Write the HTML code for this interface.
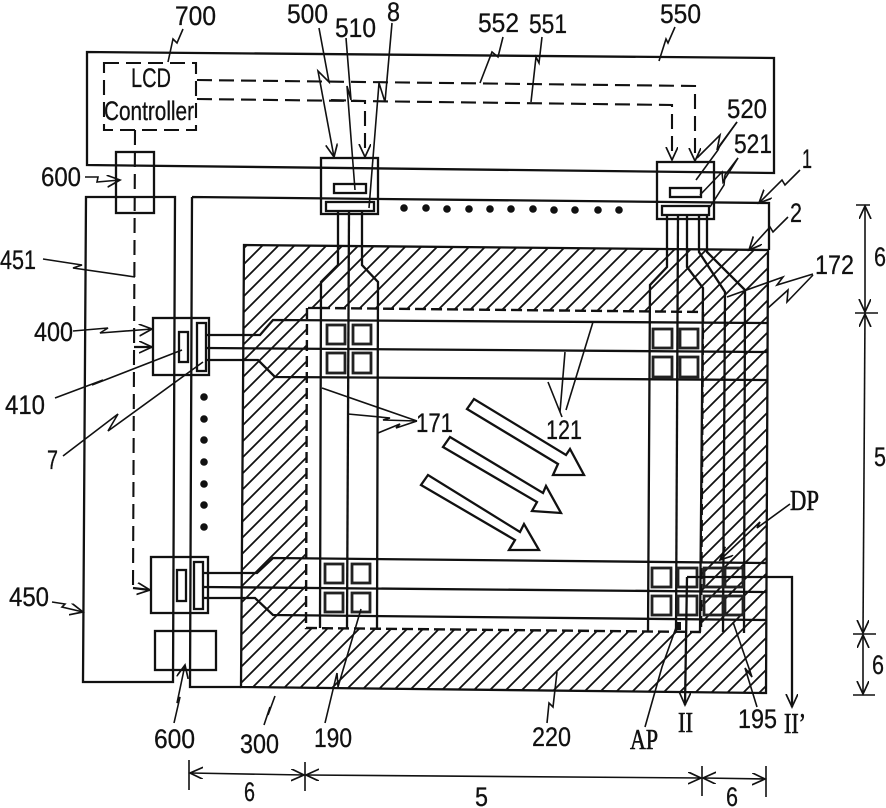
<!DOCTYPE html>
<html><head><meta charset="utf-8"><style>
html,body{margin:0;padding:0;background:#fff}
svg{display:block}
text{font-family:"Liberation Sans",sans-serif;font-size:27px;fill:#111;stroke:#111;stroke-width:.3}
text.s{font-family:"Liberation Serif",serif;font-size:28px;stroke-width:.6}
.l{fill:none;stroke:#111;stroke-width:2.3}
.p{fill:none;stroke:#222;stroke-width:2.8}
.t{fill:none;stroke:#111;stroke-width:1.6}
.d{fill:none;stroke:#111;stroke-width:2.1;stroke-dasharray:15 7}
.w{fill:none;stroke:#111;stroke-width:2.4;stroke-dasharray:11 5}
</style></head><body>
<svg width="886" height="808" viewBox="0 0 886 808" xmlns="http://www.w3.org/2000/svg">
<defs>
<pattern id="h" patternUnits="userSpaceOnUse" width="16" height="16" patternTransform="translate(12,0)">
<path d="M-2,18 L18,-2 M-2,2 L2,-2 M14,18 L18,14" stroke="#111" stroke-width="1.8" fill="none"/>
</pattern>
<marker id="a" markerUnits="userSpaceOnUse" markerWidth="18" markerHeight="14" refX="13" refY="6" orient="auto-start-reverse">
<path d="M0,0 L13,6 L0,12" fill="none" stroke="#111" stroke-width="1.7"/>
</marker>
</defs>
<rect width="886" height="808" fill="#fff"/>

<!-- hatched frame -->
<path d="M244,245 L768,250 L766,693 L241,687 Z M307,308 L306,628 L701,632 L703,312 Z" fill="url(#h)" fill-rule="evenodd"/>
<path class="l" d="M244,245 L768,250 L766,693 L241,687 Z"/>
<path class="w" d="M307,308 L306,628 L701,632 L703,312 L322,308"/>

<!-- FPC 550, panel, boards -->
<path class="l" d="M87,52 L774,58 L774,173 L87,165 Z"/>
<path class="l" d="M192,197 L769,203 L769,250 M192,197 L190,687 L241,687"/>
<path class="l" d="M86,197 L175,197 L173,682 L83,682 Z"/>

<!-- small boxes -->
<rect class="l" x="116" y="152" width="38" height="61"/>
<rect class="l" x="155" y="631" width="61" height="39"/>
<rect class="l" x="321" y="158" width="57" height="56"/>
<rect class="l" x="334" y="184" width="32" height="9"/>
<rect class="l" x="326" y="202" width="48" height="9"/>
<rect class="l" x="657" y="162" width="57" height="57"/>
<rect class="l" x="670" y="188" width="31" height="9"/>
<rect class="l" x="662" y="206" width="47" height="9"/>
<rect class="l" x="153" y="318" width="56" height="57"/>
<rect class="l" x="179" y="332" width="9" height="30"/>
<rect class="l" x="197" y="323" width="9" height="48"/>
<rect class="l" x="151" y="557" width="57" height="56"/>
<rect class="l" x="177" y="570" width="9" height="31"/>
<rect class="l" x="194" y="562" width="9" height="47"/>

<!-- data lines -->
<path class="l" d="M338,211 L338,265 L321,282 L320,628"/>
<path class="l" d="M349,211 L347,628"/>
<path class="l" d="M362,211 L362,265 L378,282 L377,629"/>
<path class="l" d="M308,308 L322,308"/>
<path class="l" d="M667,215 L667,267 L650,285 L648,632"/>
<path class="l" d="M678,215 L676,632"/>
<path class="l" d="M687,215 L687,267 L703,288 L700,632"/>
<path class="l" d="M699,215 L699,252 L725,292 L723,632"/>
<path class="l" d="M707,215 L707,252 L745,290 L744,633"/>

<!-- gate lines -->
<path class="l" d="M206,335 L260,335 L273,320 L768,323"/>
<path class="l" d="M206,348 L768,352"/>
<path class="l" d="M206,360 L258,360 L275,377 L768,380"/>
<path class="l" d="M203,573 L257,573 L273,558 L766,563"/>
<path class="l" d="M203,587 L766,592"/>
<path class="l" d="M203,598 L255,598 L273,615 L766,620"/>

<!-- pixels -->
<rect class="p" x="327" y="325" width="18" height="19"/><rect class="p" x="353" y="325" width="18" height="19"/>
<rect class="p" x="327" y="353" width="18" height="20"/><rect class="p" x="353" y="353" width="18" height="20"/>
<rect class="p" x="325" y="564" width="18" height="19"/><rect class="p" x="352" y="564" width="18" height="19"/>
<rect class="p" x="325" y="593" width="18" height="19"/><rect class="p" x="352" y="593" width="18" height="19"/>
<rect class="p" x="653" y="329" width="19" height="19"/><rect class="p" x="680" y="329" width="18" height="19"/>
<rect class="p" x="653" y="357" width="19" height="20"/><rect class="p" x="680" y="357" width="18" height="20"/>
<rect class="p" x="652" y="568" width="19" height="19"/><rect class="p" x="678" y="568" width="19" height="19"/>
<rect class="p" x="704" y="568" width="19" height="19"/><rect class="p" x="725" y="568" width="18" height="19"/>
<rect class="p" x="652" y="596" width="19" height="19"/><rect class="p" x="678" y="596" width="19" height="19"/>
<rect class="p" x="704" y="596" width="19" height="19"/><rect class="p" x="725" y="596" width="18" height="19"/>
<rect x="675" y="622" width="6" height="8" fill="#111"/>

<!-- controller and dashed signals -->
<rect class="d" x="104" y="63" width="92" height="67"/>
<path class="d" d="M197,80 L695,86 L695,161" marker-end="url(#a)"/>
<path class="d" d="M197,99 L672,105 L672,160" marker-end="url(#a)"/>
<path class="d" d="M331,100 L365,101 L365,157" marker-end="url(#a)"/>
<path class="d" d="M135,130 L133,588" />
<path class="l" d="M134,347 L152,347" marker-end="url(#a)"/>
<path class="l" d="M133,588 L150,590" marker-end="url(#a)"/>

<!-- dots -->
<g fill="#111">
<circle cx="404" cy="208" r="3.8"/><circle cx="426" cy="208" r="3.8"/><circle cx="447" cy="209" r="3.8"/><circle cx="469" cy="209" r="3.8"/><circle cx="490" cy="209" r="3.8"/><circle cx="511" cy="209" r="3.8"/><circle cx="533" cy="209" r="3.8"/><circle cx="554" cy="210" r="3.8"/><circle cx="575" cy="210" r="3.8"/><circle cx="598" cy="210" r="3.8"/><circle cx="619" cy="210" r="3.8"/>
<circle cx="204" cy="397" r="3.8"/><circle cx="204" cy="419" r="3.8"/><circle cx="204" cy="440" r="3.8"/><circle cx="204" cy="462" r="3.8"/><circle cx="204" cy="484" r="3.8"/><circle cx="204" cy="505" r="3.8"/><circle cx="204" cy="527" r="3.8"/>
</g>

<!-- block arrows -->
<path class="l" d="M467,409 L558,464 L553,475 L584,475 L570,449 L566,455 L474,399 Z"/>
<path class="l" d="M443,447 L537,502 L532,511 L561,513 L546,486 L543,493 L450,437 Z"/>
<path class="l" d="M421,485 L515,540 L509,550 L539,550 L524,524 L520,532 L428,475 Z"/>

<!-- leaders -->
<path class="t" d="M183,29 L177,43 L173,39 L168,62"/>
<path class="t" d="M319,28 L329,82 L318,71 L334,157" marker-end="url(#a)"/>
<path class="t" d="M346,38 L351,100 L347,86 L355,190"/>
<path class="t" d="M392,23 L385,102 L379,83 L369,208"/>
<path class="t" d="M503,37 L498,57 L492,52 L480,83"/>
<path class="t" d="M542,37 L539,63 L536,57 L531,102"/>
<path class="t" d="M675,27 L668,43 L666,39 L659,61"/>
<path class="t" d="M737,122 L717,150 L720,135 L697,158"/>
<path class="t" d="M737,122 L720,145 L718,150 L696,180"/>
<path class="t" d="M738,158 L723,182 L722,172 L700,195"/>
<path class="t" d="M738,158 L725,175 L724,185 L710,207"/>
<path class="t" d="M800,170 L785,185 L782,180 L759,203" marker-end="url(#a)"/>
<path class="t" d="M788,217 L773,232 L770,227 L749,250" marker-end="url(#a)"/>
<path class="t" d="M813,274 L777,285 L783,277 L727,297"/>
<path class="t" d="M813,275 L787,302 L788,290 L768,308"/>
<path class="t" d="M85,177 L98,177 L97,182 L120,180" marker-end="url(#a)"/>
<path class="t" d="M43,259 L82,265 L73,268 L135,277"/>
<path class="t" d="M73,331 L108,328 L100,333 L152,329" marker-end="url(#a)"/>
<path class="t" d="M55,398 L103,380 L92,385 L182,350"/>
<path class="t" d="M63,456 L118,414 L108,431 L203,362"/>
<path class="t" d="M52,602 L65,604 L62,607 L83,612" marker-end="url(#a)"/>
<path class="t" d="M174,723 L180,697 L177,703 L185,665" marker-end="url(#a)"/>
<path class="t" d="M264,725 L270,707 L268,715 L275,696"/>
<path class="t" d="M325,723 L337,673 L338,687 L361,609"/>
<path class="t" d="M322,388 L417,421"/>
<path class="t" d="M348,414 L390,418 L383,420 L417,421"/>
<path class="t" d="M378,433 L400,424 L396,428 L417,421"/>
<path class="t" d="M593,322 L566,410"/>
<path class="t" d="M565,352 L560,412"/>
<path class="t" d="M548,382 L562,417"/>
<path class="t" d="M790,504 L757,528 L760,522 L720,560" marker-end="url(#a)"/>
<path class="t" d="M645,727 L662,667 L678,622"/>
<path class="t" d="M757,707 L745,668 L752,677 L733,622"/>
<path class="t" d="M547,723 L549,703 L553,707 L557,672"/>
<path class="l" d="M687,577 L685,705" marker-end="url(#a)"/>
<path class="l" d="M687,577 L792,577 L792,707" marker-end="url(#a)"/>

<!-- dimensions -->
<path class="t" d="M865,206 L865,312" marker-start="url(#a)" marker-end="url(#a)"/>
<path class="t" d="M865,314 L863,633" marker-start="url(#a)" marker-end="url(#a)"/>
<path class="t" d="M863,635 L863,694" marker-start="url(#a)" marker-end="url(#a)"/>
<path class="t" d="M856,205 L870,205 M855,313 L878,313 M853,634 L876,634 M853,695 L875,695"/>
<path class="t" d="M190,773 L304,775" marker-start="url(#a)" marker-end="url(#a)"/>
<path class="t" d="M306,775 L701,778" marker-start="url(#a)" marker-end="url(#a)"/>
<path class="t" d="M703,778 L765,779" marker-start="url(#a)" marker-end="url(#a)"/>
<path class="t" d="M189,760 L189,790 M305,762 L305,791 M702,766 L702,796 M766,766 L766,797"/>

<!-- labels -->
<text x="175" y="25" textLength="41" lengthAdjust="spacingAndGlyphs">700</text>
<text x="287" y="23" textLength="41" lengthAdjust="spacingAndGlyphs">500</text>
<text x="335" y="37" textLength="41" lengthAdjust="spacingAndGlyphs">510</text>
<text x="387" y="21" textLength="13" lengthAdjust="spacingAndGlyphs">8</text>
<text x="478" y="32" textLength="41" lengthAdjust="spacingAndGlyphs">552</text>
<text x="529" y="33" textLength="38" lengthAdjust="spacingAndGlyphs">551</text>
<text x="660" y="23" textLength="41" lengthAdjust="spacingAndGlyphs">550</text>
<text x="727" y="118" textLength="40" lengthAdjust="spacingAndGlyphs">520</text>
<text x="734" y="153" textLength="38" lengthAdjust="spacingAndGlyphs">521</text>
<text x="802" y="168" textLength="10" lengthAdjust="spacingAndGlyphs">1</text>
<text x="790" y="222" textLength="12" lengthAdjust="spacingAndGlyphs">2</text>
<text x="874" y="266" textLength="12" lengthAdjust="spacingAndGlyphs">6</text>
<text x="815" y="274" textLength="39" lengthAdjust="spacingAndGlyphs">172</text>
<text x="41" y="186" textLength="40" lengthAdjust="spacingAndGlyphs">600</text>
<text x="0" y="269" textLength="36" lengthAdjust="spacingAndGlyphs">451</text>
<text x="34" y="341" textLength="39" lengthAdjust="spacingAndGlyphs">400</text>
<text x="5" y="414" textLength="40" lengthAdjust="spacingAndGlyphs">410</text>
<text x="47" y="469" textLength="11" lengthAdjust="spacingAndGlyphs">7</text>
<text x="9" y="606" textLength="40" lengthAdjust="spacingAndGlyphs">450</text>
<text x="154" y="748" textLength="41" lengthAdjust="spacingAndGlyphs">600</text>
<text x="240" y="753" textLength="39" lengthAdjust="spacingAndGlyphs">300</text>
<text x="314" y="747" textLength="38" lengthAdjust="spacingAndGlyphs">190</text>
<text x="416" y="432" textLength="37" lengthAdjust="spacingAndGlyphs">171</text>
<text x="546" y="439" textLength="36" lengthAdjust="spacingAndGlyphs">121</text>
<text class="s" x="790" y="510" textLength="29" lengthAdjust="spacingAndGlyphs">DP</text>
<text class="s" x="630" y="749" textLength="28" lengthAdjust="spacingAndGlyphs">AP</text>
<text class="s" x="678" y="732" textLength="15" lengthAdjust="spacingAndGlyphs">II</text>
<text x="738" y="728" textLength="39" lengthAdjust="spacingAndGlyphs">195</text>
<text class="s" x="784" y="733" textLength="22" lengthAdjust="spacingAndGlyphs">II’</text>
<text x="532" y="746" textLength="39" lengthAdjust="spacingAndGlyphs">220</text>
<text x="475" y="806" textLength="13" lengthAdjust="spacingAndGlyphs">5</text>
<text x="726" y="806" textLength="12" lengthAdjust="spacingAndGlyphs">6</text>
<text x="244" y="801" textLength="11" lengthAdjust="spacingAndGlyphs">6</text>
<text x="874" y="466" textLength="12" lengthAdjust="spacingAndGlyphs">5</text>
<text x="872" y="674" textLength="12" lengthAdjust="spacingAndGlyphs">6</text>
<text x="131" y="87" textLength="40" lengthAdjust="spacingAndGlyphs">LCD</text>
<text x="104" y="120" textLength="90" lengthAdjust="spacingAndGlyphs">Controller</text>
</svg>
</body></html>
